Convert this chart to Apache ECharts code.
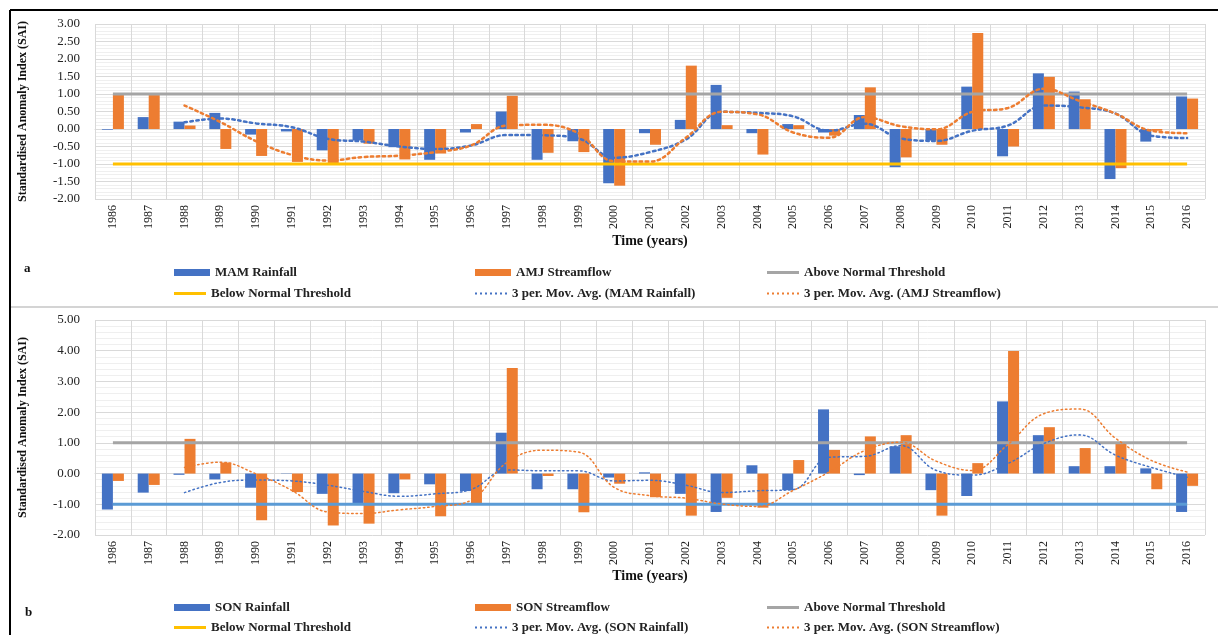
<!DOCTYPE html>
<html>
<head>
<meta charset="utf-8">
<script src="https://cdn.jsdelivr.net/npm/echarts@6/dist/echarts.min.js"></script>
<style>
  html, body { margin: 0; padding: 0; background: #fff; }
  #chart { width: 1218px; height: 635px; }
</style>
</head>
<body>
<div id="chart"></div>
<script>
const years = ['1986', '1987', '1988', '1989', '1990', '1991', '1992', '1993', '1994', '1995', '1996',
  '1997', '1998', '1999', '2000', '2001', '2002', '2003', '2004', '2005', '2006', '2007', '2008',
  '2009', '2010', '2011', '2012', '2013', '2014', '2015', '2016'];

// panel a
const mamRainfall = [-0.02, 0.34, 0.21, 0.46, -0.16, -0.07, -0.61, -0.33, -0.52, -0.88, -0.1, 0.5, -0.88, -0.35,
  -1.55, -0.12, 0.26, 1.26, -0.12, 0.14, -0.1, 0.4, -1.09, -0.33, 1.21, -0.78, 1.59, 1.07, -1.43, -0.36, 0.93];
const amjStreamflow = [0.98, 0.97, 0.1, -0.57, -0.77, -0.94, -0.97, -0.42, -0.87, -0.7, 0.14, 0.95, -0.68, -0.66,
  -1.62, -0.45, 1.81, 0.11, -0.73, 0.11, -0.19, 1.19, -0.81, -0.45, 2.74, -0.5, 1.49, 0.85, -1.12, -0.05, 0.87];
const mamMovAvg = [null, null, 0.19, 0.3, 0.16, 0.05, -0.28, -0.36, -0.5, -0.57, -0.47, -0.17, -0.18, -0.27,
  -0.82, -0.66, -0.3, 0.49, 0.46, 0.36, -0.05, 0.15, -0.27, -0.34, -0.05, 0.1, 0.67, 0.62, 0.44, -0.19, -0.26];
const amjMovAvg = [null, null, 0.67, 0.2, -0.35, -0.74, -0.9, -0.8, -0.76, -0.66, -0.47, 0.1, 0.12, -0.12,
  -0.92, -0.93, -0.25, 0.49, 0.42, -0.1, -0.25, 0.34, 0.08, -0.01, 0.49, 0.6, 1.15, 0.8, 0.44, -0.05, -0.12];

// panel b
const sonRainfall = [-1.17, -0.62, -0.04, -0.19, -0.46, 0.01, -0.66, -0.97, -0.64, -0.35, -0.57, 1.33, -0.51, -0.51,
  -0.13, 0.04, -0.66, -1.25, 0.27, -0.54, 2.09, -0.05, 0.89, -0.54, -0.73, 2.35, 1.25, 0.24, 0.24, 0.17, -1.25];
const sonStreamflow = [-0.24, -0.37, 1.13, 0.36, -1.52, -0.6, -1.69, -1.63, -0.19, -1.39, -0.97, 3.44, -0.08, -1.26,
  -0.33, -0.77, -1.37, -0.79, -1.11, 0.44, 0.77, 1.21, 1.25, -1.37, 0.34, 3.99, 1.51, 0.83, 1.02, -0.51, -0.4];
const sonRainMovAvg = [null, null, -0.62, -0.29, -0.21, -0.24, -0.38, -0.58, -0.74, -0.66, -0.52, 0.12, 0.09, 0.09,
  -0.24, -0.22, -0.38, -0.62, -0.56, -0.52, 0.53, 0.56, 0.91, 0.1, -0.05, 0.33, 0.98, 1.26, 0.6, 0.2, -0.12];
const sonFlowMovAvg = [null, null, 0.2, 0.37, -0.01, -0.55, -1.25, -1.3, -1.18, -1.07, -0.87, 0.36, 0.76, 0.7,
  -0.45, -0.72, -0.8, -0.99, -1.07, -0.55, 0.05, 0.75, 1.02, 0.4, 0.1, 0.95, 1.95, 2.1, 1.15, 0.43, 0.05];

const aboveNormal = 1.0;
const belowNormal = -1.0;

const FONT = 'Liberation Serif, Times New Roman, serif';
const BLUE = '#4472c4';
const ORANGE = '#ed7d31';
const GRAY = '#a5a5a5';
const YELLOW = '#ffc000';
const LIGHTBLUE = '#5b9bd5';

// legend icons: a solid stroke and a row of dots
const DOTS = 'path://' + [0, 5, 10, 15, 20, 25, 30].map(x => `M${x},0h2v2h-2z`).join('');

const chart = echarts.init(document.getElementById('chart'));

const legendText = { fontFamily: FONT, fontWeight: 'bold', fontSize: 13, color: '#222' };

// one legend box per entry so every column lines up like the original
const legendItem = (name, left, top, kind, color) => {
  const sizes = {
    bar: { w: 36, h: 7, icon: 'rect' },
    line: { w: 32, h: 3, icon: 'rect' },
    dots: { w: 32, h: 2, icon: DOTS }
  }[kind];
  const item = { name, icon: sizes.icon };
  if (color) item.itemStyle = { color };
  return {
    left, top,
    orient: 'horizontal',
    itemWidth: sizes.w,
    itemHeight: sizes.h,
    itemGap: 0,
    textStyle: legendText,
    selectedMode: false,
    data: [item]
  };
};

const xAxisBase = (gridIndex, nameGap) => ({
  type: 'category',
  gridIndex,
  data: years,
  axisTick: { show: false },
  axisLine: { lineStyle: { color: '#d9d9d9' } },
  axisLabel: { rotate: 90, interval: 0, margin: 6, fontFamily: FONT, fontSize: 12, color: '#222' },
  splitLine: { show: true, interval: 0, lineStyle: { color: '#d9d9d9' } },
  name: 'Time (years)',
  nameLocation: 'middle',
  nameGap,
  nameTextStyle: { fontFamily: FONT, fontWeight: 'bold', fontSize: 14, color: '#111' }
});

const yAxisBase = (gridIndex, min, max, interval) => ({
  type: 'value',
  gridIndex, min, max, interval,
  axisLine: { show: false },
  axisTick: { show: false },
  axisLabel: { formatter: v => v.toFixed(2), margin: 15, fontFamily: FONT, fontSize: 13, color: '#222' },
  splitLine: { lineStyle: { color: '#d9d9d9' } },
  minorTick: { show: false, splitNumber: 5 },
  minorSplitLine: { show: true, lineStyle: { color: '#efefef' } },
  name: 'Standardised Anomaly Index (SAI)',
  nameLocation: 'middle',
  nameRotate: 90,
  nameGap: 66,
  nameTextStyle: { fontFamily: FONT, fontWeight: 'bold', fontSize: 12, color: '#111' }
});

const flatLine = (name, value, color, idx) => ({
  name, type: 'line', xAxisIndex: idx, yAxisIndex: idx,
  data: years.map(() => value),
  symbol: 'none',
  lineStyle: { color, width: 3 },
  itemStyle: { color },
  z: 3
});

const movAvg = (name, data, color, idx, width, dash) => ({
  name, type: 'line', xAxisIndex: idx, yAxisIndex: idx,
  data, smooth: 0.4, symbol: 'none', connectNulls: false,
  lineStyle: { color, width, type: dash, cap: 'round' },
  itemStyle: { color },
  z: 4
});

const bar = (name, data, color, idx) => ({
  name, type: 'bar', xAxisIndex: idx, yAxisIndex: idx,
  data, barWidth: 11, barGap: '0%',
  itemStyle: { color }
});

const option = {
  animation: false,
  backgroundColor: '#fff',
  grid: [
    { left: 95, right: 13, top: 24, height: 175 },
    { left: 95, right: 13, top: 320, height: 215 }
  ],
  xAxis: [xAxisBase(0, 35), xAxisBase(1, 33)],
  yAxis: [yAxisBase(0, -2, 3, 0.5), yAxisBase(1, -2, 5, 1)],
  legend: [
    legendItem('MAM Rainfall', 169, 261, 'bar'),
    legendItem('AMJ Streamflow', 470, 261, 'bar'),
    legendItem('Above Normal Threshold', 762, 261, 'line', GRAY),
    legendItem('Below Normal Threshold', 169, 282, 'line', YELLOW),
    legendItem('3 per. Mov. Avg. (MAM Rainfall)', 470, 282, 'dots'),
    legendItem('3 per. Mov. Avg. (AMJ Streamflow)', 762, 282, 'dots'),

    legendItem('SON Rainfall', 169, 596, 'bar'),
    legendItem('SON Streamflow', 470, 596, 'bar'),
    legendItem('Above Normal Threshold', 762, 596, 'line', GRAY),
    legendItem('Below Normal Threshold', 169, 616, 'line', YELLOW),
    legendItem('3 per. Mov. Avg. (SON Rainfall)', 470, 616, 'dots'),
    legendItem('3 per. Mov. Avg. (SON Streamflow)', 762, 616, 'dots')
  ],
  graphic: [
    { type: 'line', shape: { x1: 10, y1: 10, x2: 1218, y2: 10 }, style: { stroke: '#000', lineWidth: 2 } },
    { type: 'line', shape: { x1: 10, y1: 10, x2: 10, y2: 635 }, style: { stroke: '#000', lineWidth: 2 } },
    { type: 'line', shape: { x1: 11, y1: 307, x2: 1218, y2: 307 }, style: { stroke: '#d4d4d4', lineWidth: 2 } },
    { type: 'text', left: 24, top: 262, style: { text: 'a', font: 'bold 13px ' + FONT, fill: '#111' } },
    { type: 'text', left: 25, top: 606, style: { text: 'b', font: 'bold 13px ' + FONT, fill: '#111' } }
  ],
  series: [
    bar('MAM Rainfall', mamRainfall, BLUE, 0),
    bar('AMJ Streamflow', amjStreamflow, ORANGE, 0),
    flatLine('Above Normal Threshold', aboveNormal, GRAY, 0),
    flatLine('Below Normal Threshold', belowNormal, YELLOW, 0),
    movAvg('3 per. Mov. Avg. (MAM Rainfall)', mamMovAvg, BLUE, 0, 2.5, [2.5, 3.5]),
    movAvg('3 per. Mov. Avg. (AMJ Streamflow)', amjMovAvg, ORANGE, 0, 2.5, [2.5, 3.5]),

    bar('SON Rainfall', sonRainfall, BLUE, 1),
    bar('SON Streamflow', sonStreamflow, ORANGE, 1),
    flatLine('Above Normal Threshold', aboveNormal, GRAY, 1),
    flatLine('Below Normal Threshold', belowNormal, LIGHTBLUE, 1),
    movAvg('3 per. Mov. Avg. (SON Rainfall)', sonRainMovAvg, BLUE, 1, 1.5, [1.5, 3]),
    movAvg('3 per. Mov. Avg. (SON Streamflow)', sonFlowMovAvg, ORANGE, 1, 1.5, [1.5, 3])
  ]
};

chart.setOption(option);
window.addEventListener('resize', () => chart.resize());
</script>
</body>
</html>
